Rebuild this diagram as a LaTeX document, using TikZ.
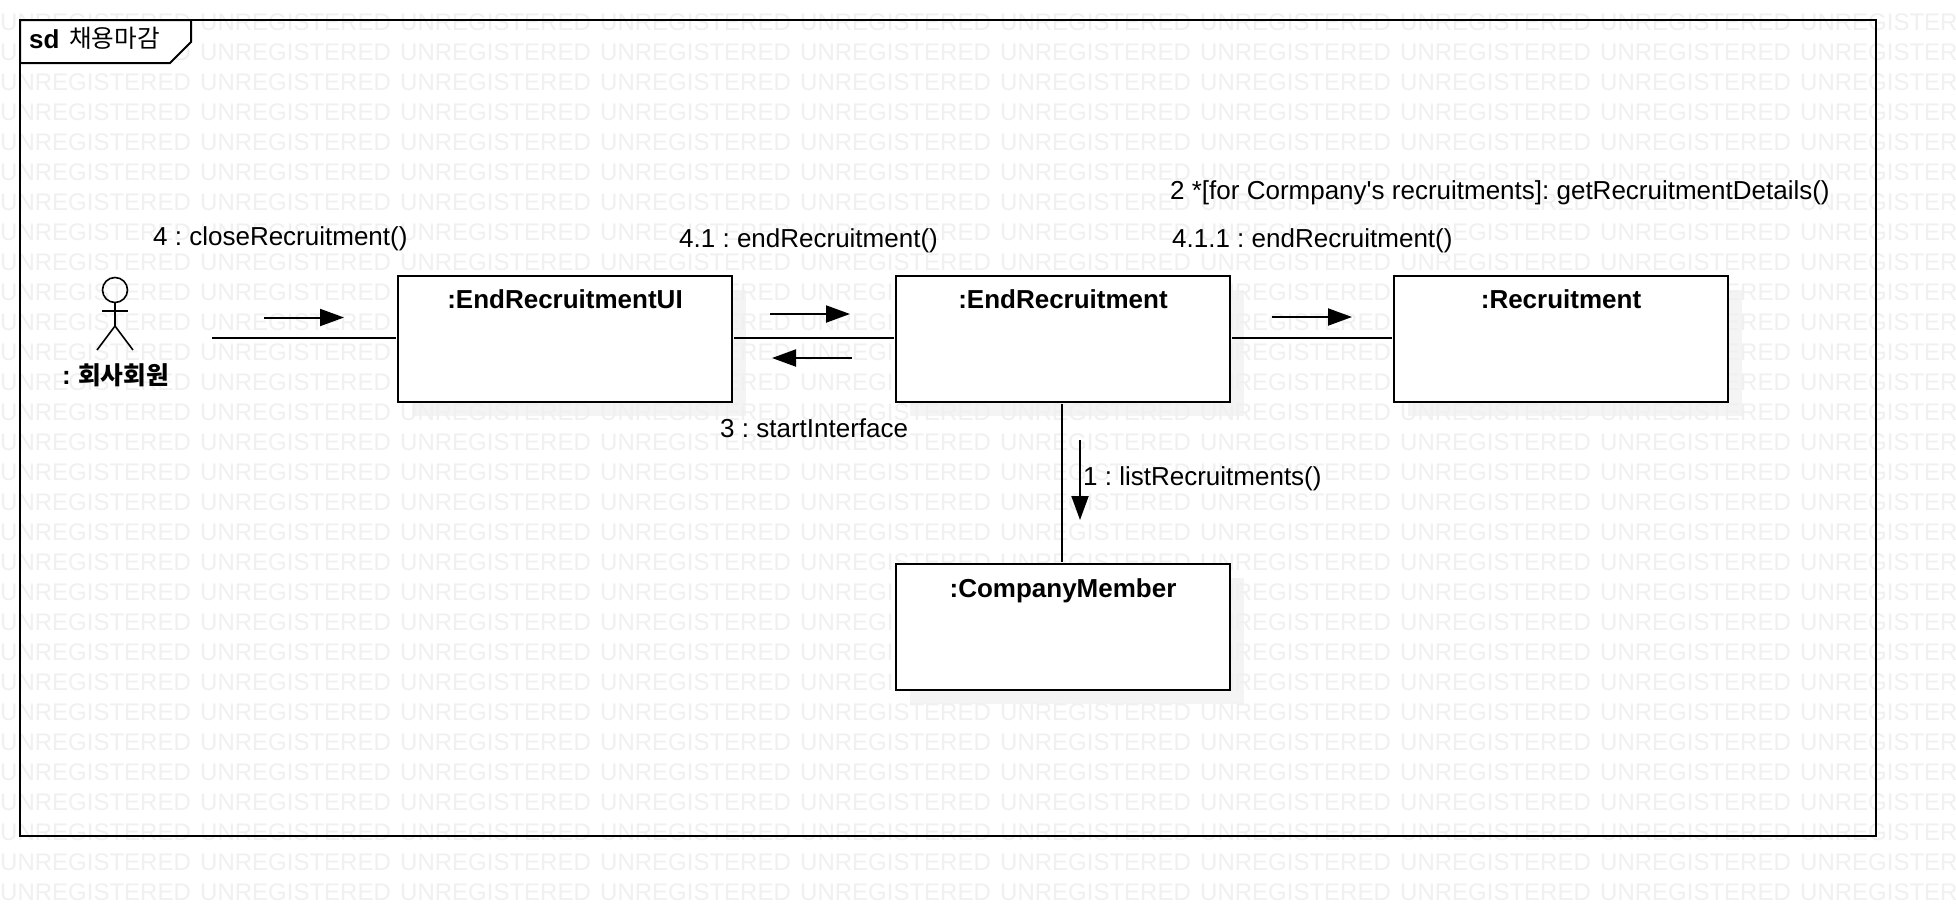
\documentclass[tikz,border=0pt]{standalone}
\usepackage{fontspec}
\setmainfont{Liberation Sans}
\newfontfamily\straightf{Liberation Sans}
\newfontfamily\krfont{Noto Sans CJK KR}
\usetikzlibrary{arrows.meta}
\definecolor{wm}{HTML}{F0F0F0}
\definecolor{shadowc}{HTML}{F4F4F4}
\tikzset{
  objbox/.style={draw=black,fill=white,line width=2pt,minimum width=334pt,minimum height=126pt,inner sep=0pt,outer sep=2pt},
  objtitle/.style={font=\fontsize{26}{30}\selectfont\bfseries,anchor=base,inner sep=0pt},
  msg/.style={font=\fontsize{26}{30}\selectfont,anchor=base west,inner sep=0pt},
  wmtext/.style={font=\fontsize{24}{28}\selectfont,text=wm,anchor=base west,inner sep=0pt},
  link/.style={line width=2pt,draw=black},
  msgarrow/.style={line width=2pt,draw=black,-{Triangle[length=24pt,width=17pt]}},
  stick/.style={line width=1.6pt,draw=black},
}
\begin{document}
\frenchspacing
\begin{tikzpicture}[x=1pt,y=-1pt]
\useasboundingbox (0,0) rectangle (1956,916);
\fill[white] (0,0) rectangle (1956,916);
\begin{scope}
\clip (0,0) rectangle (1956,916);
% shadows
\foreach \cx/\cy in {565/339,1063/339,1561/339,1063/627}{
  \fill[shadowc] (\cx-153,\cy-49) rectangle (\cx+181,\cy+77);
}
% watermark
\foreach \r in {0,...,29}{
  \foreach \c in {0,...,9}{
    \node[wmtext] at (200*\c,30+30*\r) {UNREGISTERED};
  }
}
\end{scope}
% frame
\node[draw=black,line width=2pt,minimum width=1856pt,minimum height=816pt,inner sep=0pt,outer sep=0pt,anchor=north west] (frame) at (20,20) {};
\fill[white,draw=black,line width=2pt] (20,20) -- (191,20) -- (191,42) -- (170,63) -- (20,63) -- cycle;
\node[objtitle,anchor=base west] (sd) at (29,48) {sd};
\node[msg] (fname) at (69,47) {\krfont\fontsize{24.6}{30}\selectfont 채용마감};
% objects
\node[objbox] (ui) at (565,339) {};
\node[objbox] (end) at (1063,339) {};
\node[objbox] (rec) at (1561,339) {};
\node[objbox] (cm) at (1063,627) {};
\node[objtitle] (uit) at (565,308.5) {:EndRecruitmentUI};
\node[objtitle] (endt) at (1063,308.5) {:EndRecruitment};
\node[objtitle] (rect) at (1561,308.5) {:Recruitment};
\node[objtitle] (cmt) at (1063,597) {:CompanyMember};
% actor
\node[draw=black,line width=1.6pt,circle,minimum size=25pt,inner sep=0pt,outer sep=0pt] (head) at (115,290) {};
\coordinate (hip) at (115,326);
\coordinate (armL) at (102,311);
\coordinate (armR) at (128,311);
\coordinate (legL) at (97,350);
\coordinate (legR) at (133,350);
\draw[stick] (head.south) -- (hip);
\draw[stick] (armL) -- (armR);
\draw[stick] (legL) -- (hip) -- (legR);
\node[objtitle,anchor=base west] (actor) at (62,384) {: {\krfont\fontsize{24.7}{28}\selectfont\bfseries 회사회원}};
% links
\coordinate (actorend) at (212,338);
\draw[link] (actorend) -- (actorend -| ui.west);
\draw[link] ([yshift=1pt]ui.east) -- ([yshift=1pt]end.west);
\draw[link] ([yshift=1pt]end.east) -- ([yshift=1pt]rec.west);
\draw[link] ([xshift=-1pt]end.south) -- ([xshift=-1pt]cm.north);
% message arrows
\coordinate (a1s) at (264,317.5); \coordinate (a1e) at (344,317.5);
\coordinate (a2s) at (770,314); \coordinate (a2e) at (850,314);
\coordinate (a3s) at (852,358); \coordinate (a3e) at (772,358);
\coordinate (a4s) at (1080,440); \coordinate (a4e) at (1080,520);
\coordinate (a5s) at (1272,317); \coordinate (a5e) at (1352,317);
\draw[msgarrow] (a1s) -- (a1e);
\draw[msgarrow] (a2s) -- (a2e);
\draw[msgarrow] (a3s) -- (a3e);
\draw[msgarrow] (a4s) -- (a4e);
\draw[msgarrow] (a5s) -- (a5e);
% labels
\node[msg] (l4) at (153,245) {4 : closeRecruitment()};
\node[msg] (l41) at (679,247) {4.1 : endRecruitment()};
\node[msg] (l411) at (1172,247) {4.1.1 : endRecruitment()};
\node[msg] (l2) at (1170,199) {\straightf 2 *[for Cormpany's recruitments]: getRecruitmentDetails()};
\node[msg] (l3) at (720,437) {3 : startInterface};
\node[msg] (l1) at (1083,485) {1 : listRecruitments()};
\end{tikzpicture}
\end{document}
